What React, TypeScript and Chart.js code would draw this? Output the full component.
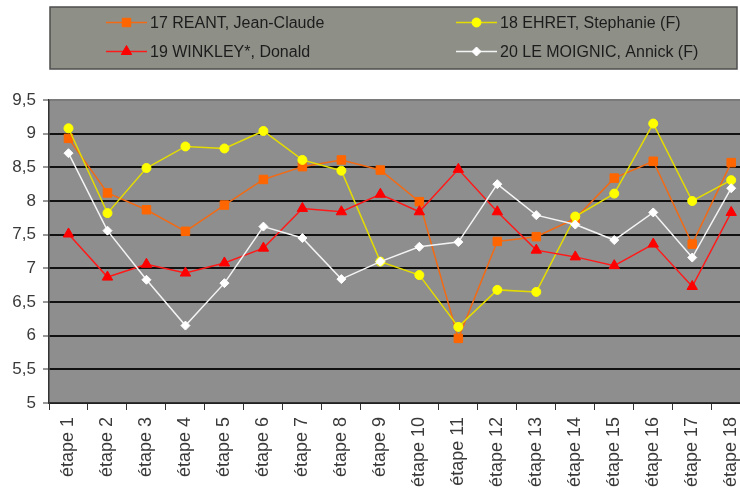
import React, { useEffect, useRef } from 'react';
import { Chart, registerables } from 'chart.js';
import { drawPoint } from 'chart.js/helpers';

Chart.register(...registerables);

const categories = [
  'étape 1', 'étape 2', 'étape 3', 'étape 4', 'étape 5', 'étape 6',
  'étape 7', 'étape 8', 'étape 9', 'étape 10', 'étape 11', 'étape 12',
  'étape 13', 'étape 14', 'étape 15', 'étape 16', 'étape 17', 'étape 18',
];

const seriesNames = [
  '17 REANT, Jean-Claude',
  '18 EHRET, Stephanie (F)',
  '19 WINKLEY*, Donald',
  '20 LE MOIGNIC, Annick (F)',
];

const reant = [8.93, 8.12, 7.87, 7.55, 7.94, 8.32, 8.51, 8.61, 8.46, 7.99, 5.96, 7.4, 7.47, 7.74, 8.34, 8.59, 7.36, 8.57];
const ehret = [9.08, 7.82, 8.49, 8.81, 8.78, 9.04, 8.61, 8.45, 7.1, 6.9, 6.13, 6.68, 6.65, 7.77, 8.11, 9.15, 8.0, 8.31];
const winkley = [7.51, 6.87, 7.06, 6.93, 7.08, 7.3, 7.89, 7.84, 8.1, 7.84, 8.47, 7.84, 7.27, 7.17, 7.04, 7.36, 6.73, 7.83];
const moignic = [8.71, 7.56, 6.83, 6.15, 6.78, 7.62, 7.45, 6.84, 7.1, 7.32, 7.39, 8.25, 7.79, 7.65, 7.42, 7.83, 7.16, 8.19];

const yMin = 5;
const yMax = 9.5;
const yStep = 0.5;

const FONT = "'Liberation Sans', Arial, sans-serif";

const plotBg = {
  id: 'plotBg',
  beforeDraw(chart: any) {
    const { ctx, chartArea: a } = chart;
    ctx.save();
    ctx.fillStyle = '#8e8e8e';
    ctx.fillRect(a.left, a.top, a.right - a.left, a.bottom - a.top);
    ctx.restore();
  },
};

const boxLegend = {
  id: 'boxLegend',
  afterDraw(chart: any) {
    const ctx = chart.ctx;
    ctx.save();
    ctx.fillStyle = '#8e9088';
    ctx.fillRect(50, 7, 687, 62);
    ctx.strokeStyle = '#4e4e4e';
    ctx.lineWidth = 1.5;
    ctx.strokeRect(50, 7, 687, 62);
    chart.data.datasets.forEach((ds: any, i: number) => {
      const col = i % 2;
      const row = Math.floor(i / 2);
      const x0 = col === 0 ? 106 : 456;
      const y = row === 0 ? 22.5 : 51.5;
      ctx.strokeStyle = ds.borderColor;
      ctx.lineWidth = 1.5;
      ctx.beginPath();
      ctx.moveTo(x0, y);
      ctx.lineTo(x0 + 41, y);
      ctx.stroke();
      ctx.fillStyle = ds.pointBackgroundColor;
      ctx.strokeStyle = ds.pointBorderColor;
      ctx.lineWidth = 1;
      drawPoint(ctx, { pointStyle: ds.pointStyle, radius: ds.pointRadius, borderWidth: 1, rotation: 0 } as any, x0 + 20.5, y);
      ctx.fillStyle = '#1c1c1c';
      ctx.font = `16px ${FONT}`;
      ctx.textBaseline = 'middle';
      ctx.textAlign = 'left';
      ctx.fillText(ds.label, x0 + 44, y + 1);
    });
    ctx.restore();
  },
};

export default function App() {
  const ref = useRef<HTMLCanvasElement>(null);

  useEffect(() => {
    const mk = (label: string, data: number[], line: string, fill: string, style: string, r: number, order: number) => ({
      label,
      data,
      borderColor: line,
      borderWidth: 1.5,
      pointStyle: style,
      pointRadius: r,
      pointBackgroundColor: fill,
      pointBorderColor: fill,
      pointBorderWidth: 1,
      tension: 0,
      order,
    });
    const chart = new Chart(ref.current!, {
      type: 'line',
      data: {
        labels: categories,
        datasets: [
          mk(seriesNames[0], reant, '#f26a14', '#ff6600', 'rect', 6, 4),
          mk(seriesNames[1], ehret, '#e4dc00', '#ffff00', 'circle', 4.5, 3),
          mk(seriesNames[2], winkley, '#ff1a1a', '#ff0000', 'triangle', 6, 2),
          mk(seriesNames[3], moignic, '#f4f4f4', '#ffffff', 'rectRot', 4.5, 1),
        ] as any,
      },
      options: {
        responsive: false,
        animation: false,
        layout: { padding: { top: 100, left: 0, right: 0, bottom: 0 } },
        plugins: { legend: { display: false }, tooltip: { enabled: false } },
        scales: {
          x: {
            offset: true,
            grid: { display: true, drawOnChartArea: false, offset: true, tickLength: 7, tickColor: '#333', tickWidth: 1 },
            border: { color: '#333', width: 1.5 },
            ticks: {
              autoSkip: false,
              minRotation: 90,
              maxRotation: 90,
              padding: 7,
              color: '#3a3a3a',
              font: { family: FONT, size: 18 },
            },
            afterFit: (s: any) => { s.height = 89; },
          },
          y: {
            min: yMin,
            max: yMax,
            ticks: {
              stepSize: yStep,
              padding: 7,
              color: '#3a3a3a',
              font: { family: FONT, size: 17 },
              callback: (v: any) => String(v).replace('.', ','),
            },
            grid: {
              color: (c: any) => (c.tick && c.tick.value === yMax ? '#7a7a7a' : '#111'),
              lineWidth: 2,
              tickColor: '#333',
              tickLength: 6,
              tickWidth: 1,
            },
            border: { color: '#333', width: 1.5 },
            afterFit: (s: any) => { s.width = 49; },
          },
        },
      },
      plugins: [plotBg, boxLegend],
    } as any);
    return () => chart.destroy();
  }, []);

  return (
    <div style={{ position: 'fixed', left: 0, top: 0, width: 740, height: 492, overflow: 'hidden', background: '#fff' }}>
      <canvas ref={ref} width={760} height={492} style={{ display: 'block', width: 760, height: 492 }} />
    </div>
  );
}
